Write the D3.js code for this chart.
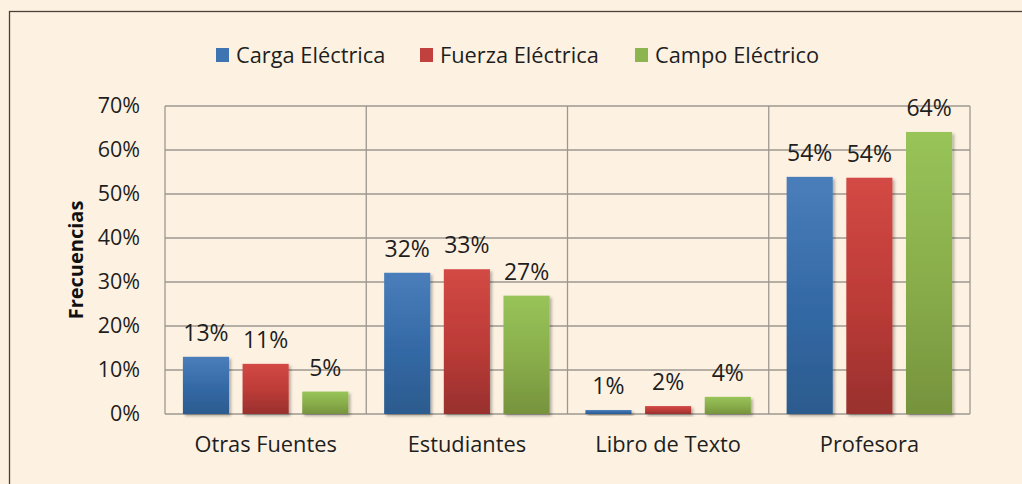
<!DOCTYPE html>
<html>
<head>
<meta charset="utf-8">
<script src="https://cdn.jsdelivr.net/npm/d3@7"></script>
<style>
  html, body { margin: 0; padding: 0; background: #fdf2e2; }
  svg { display: block; font-family: "Open Sans", sans-serif; }
</style>
</head>
<body>
<svg id="chart"></svg>
<script>
// data
var categories = ["Otras Fuentes", "Estudiantes", "Libro de Texto", "Profesora"];
var series = ["Carga Eléctrica", "Fuerza Eléctrica", "Campo Eléctrico"];
var carga = [0.130, 0.321, 0.009, 0.539];
var fuerza = [0.114, 0.329, 0.018, 0.537];
var campo = [0.051, 0.269, 0.039, 0.641];
var yTicks = [0, 0.1, 0.2, 0.3, 0.4, 0.5, 0.6, 0.7];

var values = [carga, fuerza, campo];

var width = 1022, height = 484;
var plotLeft = 165, plotRight = 970, plotTop = 106, plotBottom = 414;
var font = "'Open Sans', sans-serif";

// gradient stops per series: top, middle, bottom
var colors = [
  ["#4a7ebb", "#3369a5", "#2c5b8e"],
  ["#d34944", "#bb3b37", "#98302d"],
  ["#98c459", "#88ac4a", "#76933d"]
];
var legendColors = ["#3f74b2", "#c0413d", "#8db54f"];

var svg = d3.select("#chart")
  .attr("width", width)
  .attr("height", height);

var defs = svg.append("defs");
colors.forEach(function (c, i) {
  var g = defs.append("linearGradient")
    .attr("id", "grad" + i)
    .attr("x1", 0).attr("y1", 0).attr("x2", 0).attr("y2", 1);
  g.append("stop").attr("offset", "0%").attr("stop-color", c[0]);
  g.append("stop").attr("offset", "55%").attr("stop-color", c[1]);
  g.append("stop").attr("offset", "100%").attr("stop-color", c[2]);
});
defs.append("filter")
  .attr("id", "shadow")
  .attr("x", "-20%").attr("y", "-20%").attr("width", "150%").attr("height", "150%")
  .append("feDropShadow")
  .attr("dx", 2).attr("dy", 2).attr("stdDeviation", 1.5)
  .attr("flood-color", "#000").attr("flood-opacity", 0.3);

// outer frame (right and bottom fall outside the picture)
svg.append("rect")
  .attr("x", 9.5).attr("y", 11.5)
  .attr("width", 1100).attr("height", 600)
  .attr("fill", "#fdf2e2")
  .attr("stroke", "#4a4038")
  .attr("stroke-width", 1.3);

var x0 = d3.scaleBand()
  .domain(categories)
  .range([plotLeft, plotRight])
  .padding(0);

var x1 = d3.scaleBand()
  .domain(series)
  .range([0, x0.bandwidth()])
  .paddingInner(0.227)
  .paddingOuter(0.3);

var y = d3.scaleLinear()
  .domain([0, 0.7])
  .range([plotBottom, plotTop]);

var pct = d3.format(".0%");

// grid
var grid = svg.append("g").attr("stroke", "#9d978f").attr("stroke-width", 1.3);
grid.selectAll("line.h")
  .data(yTicks)
  .enter()
  .append("line")
  .attr("x1", plotLeft).attr("x2", plotRight)
  .attr("y1", function (d) { return y(d); })
  .attr("y2", function (d) { return y(d); });
grid.selectAll("line.v")
  .data(categories.concat(["end"]))
  .enter()
  .append("line")
  .attr("x1", function (d) { return d === "end" ? plotRight : x0(d); })
  .attr("x2", function (d) { return d === "end" ? plotRight : x0(d); })
  .attr("y1", plotTop).attr("y2", plotBottom);

// y axis labels
var yAxis = d3.axisLeft(y).tickValues(yTicks).tickFormat(pct).tickSize(0).tickPadding(25);
var gy = svg.append("g")
  .attr("transform", "translate(" + plotLeft + ",0)")
  .call(yAxis)
  .attr("font-family", font)
  .attr("font-size", 21.5);
gy.select(".domain").remove();
gy.selectAll("text").attr("fill", "#1e1e1e");

svg.append("text")
  .attr("transform", "translate(83,260) rotate(-90)")
  .attr("text-anchor", "middle")
  .attr("font-size", 20)
  .attr("font-weight", "bold")
  .attr("fill", "#111")
  .text("Frecuencias");

// category labels
var xAxis = d3.axisBottom(x0).tickSize(0).tickPadding(23);
var gx = svg.append("g")
  .attr("transform", "translate(0," + plotBottom + ")")
  .call(xAxis)
  .attr("font-family", font)
  .attr("font-size", 21.8);
gx.select(".domain").remove();
gx.selectAll("text").attr("fill", "#1e1e1e");

// bars
var groups = svg.selectAll("g.cat")
  .data(categories)
  .enter()
  .append("g")
  .attr("class", "cat")
  .attr("transform", function (d) { return "translate(" + x0(d) + ",0)"; });

groups.selectAll("rect")
  .data(function (d, ci) {
    return series.map(function (s, si) { return { s: s, si: si, v: values[si][ci] }; });
  })
  .enter()
  .append("rect")
  .attr("x", function (d) { return x1(d.s); })
  .attr("y", function (d) { return y(d.v); })
  .attr("width", x1.bandwidth())
  .attr("height", function (d) { return plotBottom - y(d.v); })
  .attr("fill", function (d) { return "url(#grad" + d.si + ")"; })
  .attr("filter", "url(#shadow)");

groups.selectAll("text.val")
  .data(function (d, ci) {
    return series.map(function (s, si) { return { s: s, si: si, v: values[si][ci] }; });
  })
  .enter()
  .append("text")
  .attr("class", "val")
  .attr("x", function (d) { return x1(d.s) + x1.bandwidth() / 2; })
  .attr("y", function (d) { return y(d.v) - 16; })
  .attr("text-anchor", "middle")
  .attr("font-size", 23)
  .attr("fill", "#1e1e1e")
  .text(function (d) { return pct(d.v); });

// legend
var legendX = [216, 420, 635];
var legende = svg.selectAll(".legend")
  .data(series)
  .enter()
  .append("g")
  .attr("class", "legend")
  .attr("transform", function (d, i) { return "translate(" + legendX[i] + ",48)"; });

legende.append("rect")
  .attr("width", 13)
  .attr("height", 14)
  .attr("fill", function (d, i) { return legendColors[i]; });

legende.append("text")
  .attr("x", 20)
  .attr("y", 15)
  .attr("font-size", 21.8)
  .attr("fill", "#1e1e1e")
  .text(function (d) { return d; });
</script>
</body>
</html>
